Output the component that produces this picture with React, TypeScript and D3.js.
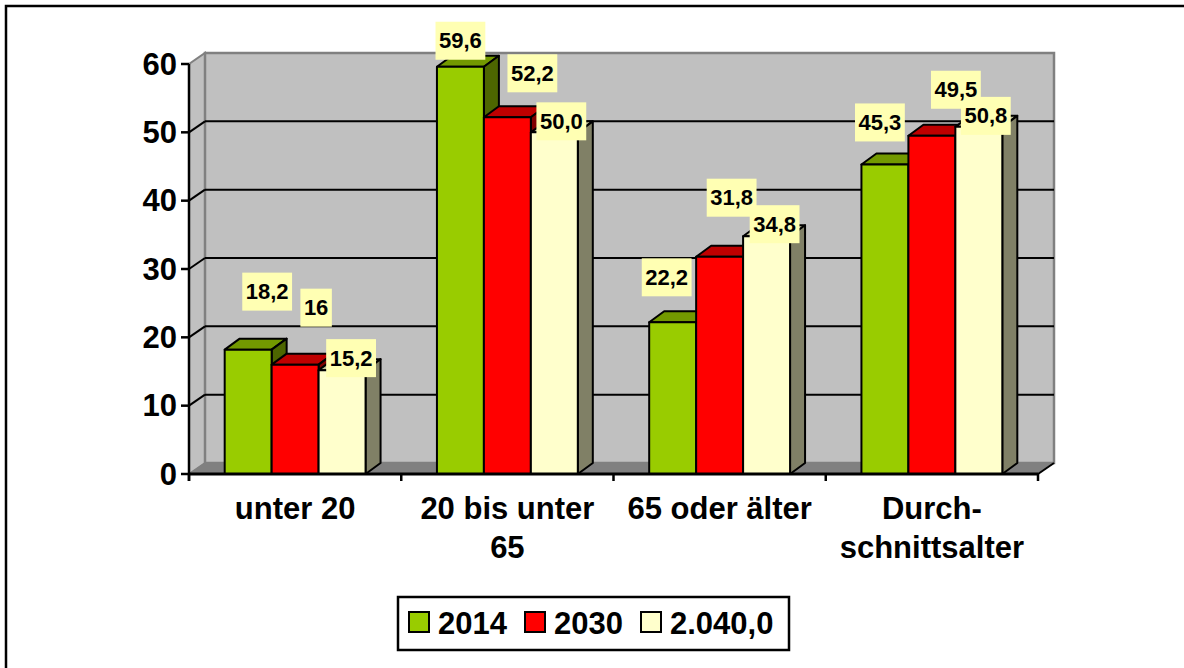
import React from 'react';
import * as d3 from 'd3';

// chart data
const categories = ['unter 20', '20 bis unter 65', '65 oder älter', 'Durchschnittsalter'];
const categoryLines = [['unter 20'], ['20 bis unter', '65'], ['65 oder älter'], ['Durch-', 'schnittsalter']];
const series = ['2014', '2030', '2.040,0'];
const values2014 = [18.2, 59.6, 22.2, 45.3];
const values2030 = [16, 52.2, 31.8, 49.5];
const values2040 = [15.2, 50.0, 34.8, 50.8];
const yTicks = [0, 10, 20, 30, 40, 50, 60];

const seriesValues = [values2014, values2030, values2040];
const seriesFormats = ['.1f', '.1~f', '.1f'];
const seriesColors = ['#99CC00', '#FF0000', '#FFFFCC'];

// label nudges (box centre relative to the bar's front top centre)
const labelNudge = [
  [[19, -58], [0, -26], [-6, -45], [-5, -42]],
  [[21, -57], [25, -44], [12, -59], [24, -46]],
  [[9, -12], [7, -11], [8, -12], [7, -11]],
];

const W = 1184;
const H = 668;
const plot = { left: 189, right: 1038, top: 64, bottom: 474 };
const wall = { dx: 16, dy: -11 };
const bar = { dx: 15, dy: -11 };
const FONT = 'Arial, "Liberation Sans", Helvetica, sans-serif';
const BIG = 31;
const SMALL = 22;

const shade = (c: string, k: number) => {
  const rgb = d3.rgb(c);
  return d3.rgb(rgb.r * k, rgb.g * k, rgb.b * k).formatHex();
};

const fmt = (spec: string, v: number) => d3.format(spec)(v).replace('.', ',');

const textWidth = (s: string, size: number) =>
  s.split('').reduce((w, ch) => w + (ch === ',' || ch === '.' ? 0.278 : 0.556), 0) * size;

export default function App() {
  const y = d3.scaleLinear().domain([0, 60]).range([plot.bottom, plot.top]);
  const x0 = d3.scaleBand<string>().domain(categories).range([plot.left, plot.right]).padding(0);
  const x1 = d3
    .scaleBand<string>()
    .domain(series)
    .range([0, x0.bandwidth()])
    .paddingInner(0)
    .paddingOuter(0.76);

  const y0 = y(0);
  const bw = x1.bandwidth();

  const floor = [
    [plot.left, y0],
    [plot.right, y0],
    [plot.right + wall.dx, y0 + wall.dy],
    [plot.left + wall.dx, y0 + wall.dy],
  ];
  const side = [
    [plot.left, y0],
    [plot.left, y(60)],
    [plot.left + wall.dx, y(60) + wall.dy],
    [plot.left + wall.dx, y0 + wall.dy],
  ];
  const pts = (p: number[][]) => p.map((d) => d.join(',')).join(' ');

  const labels: { x: number; y: number; text: string }[] = [];

  return (
    <svg width={W} height={H} style={{ position: 'absolute', left: 0, top: 0, background: '#fff' }}>
      <rect x={6} y={6} width={W + 20} height={H + 20} fill="#fff" stroke="#000" strokeWidth={2.5} />

      {/* walls */}
      <polygon points={pts(side)} fill="#C0C0C0" stroke="#808080" strokeWidth={2} />
      <rect
        x={plot.left + wall.dx}
        y={y(60) + wall.dy}
        width={plot.right - plot.left}
        height={y0 - y(60)}
        fill="#C0C0C0"
        stroke="#808080"
        strokeWidth={2.5}
      />
      <polygon points={pts(floor)} fill="#808080" stroke="#808080" strokeWidth={1} />
      <line
        x1={plot.right}
        y1={y0}
        x2={plot.right + wall.dx}
        y2={y0 + wall.dy}
        stroke="#000"
        strokeWidth={2}
      />

      {/* gridlines */}
      {yTicks
        .filter((t) => t > 0 && t < 60)
        .map((t) => (
          <g key={t}>
            <line
              x1={plot.left}
              y1={y(t)}
              x2={plot.left + wall.dx}
              y2={y(t) + wall.dy}
              stroke="#000"
              strokeWidth={2}
            />
            <line
              x1={plot.left + wall.dx}
              y1={y(t) + wall.dy}
              x2={plot.right + wall.dx}
              y2={y(t) + wall.dy}
              stroke="#000"
              strokeWidth={2}
            />
          </g>
        ))}

      {/* bars */}
      {categories.map((cat, ci) => (
        <g key={cat}>
          {series.map((s, si) => {
            const v = seriesValues[si][ci];
            const bx = (x0(cat) ?? 0) + (x1(s) ?? 0);
            const top = y(v);
            const col = seriesColors[si];
            const topFace = [
              [bx, top],
              [bx + bar.dx, top + bar.dy],
              [bx + bw + bar.dx, top + bar.dy],
              [bx + bw, top],
            ];
            const sideFace = [
              [bx + bw, top],
              [bx + bw + bar.dx, top + bar.dy],
              [bx + bw + bar.dx, y0 + bar.dy],
              [bx + bw, y0],
            ];
            const [ndx, ndy] = labelNudge[si][ci];
            labels.push({ x: bx + bw / 2 + ndx, y: top + ndy, text: fmt(seriesFormats[si], v) });
            return (
              <g key={s} stroke="#000" strokeWidth={2} strokeLinejoin="round">
                <polygon points={pts(topFace)} fill={shade(col, 0.75)} />
                <polygon points={pts(sideFace)} fill={shade(col, 0.5)} />
                <rect x={bx} y={top} width={bw} height={y0 - top} fill={col} />
              </g>
            );
          })}
        </g>
      ))}

      {/* axes */}
      <line x1={plot.left} y1={plot.top} x2={plot.left} y2={y0 + 7} stroke="#000" strokeWidth={2.5} />
      <line x1={plot.left - 1} y1={y0} x2={plot.right} y2={y0} stroke="#000" strokeWidth={3} />
      {yTicks.map((t) => (
        <g key={t}>
          <line x1={plot.left - 8} y1={y(t)} x2={plot.left} y2={y(t)} stroke="#000" strokeWidth={2.5} />
          <text
            x={plot.left - 12}
            y={y(t)}
            textAnchor="end"
            dominantBaseline="central"
            fontFamily={FONT}
            fontWeight="bold"
            fontSize={BIG}
          >
            {t}
          </text>
        </g>
      ))}
      {[...categories.map((c) => x0(c) ?? 0), plot.right].map((tx, i) => (
        <line key={i} x1={tx} y1={y0} x2={tx} y2={y0 + 7} stroke="#000" strokeWidth={2.5} />
      ))}
      {categories.map((c, ci) => (
        <text
          key={c}
          x={(x0(c) ?? 0) + x0.bandwidth() / 2}
          y={519}
          textAnchor="middle"
          fontFamily={FONT}
          fontWeight="bold"
          fontSize={BIG}
        >
          {categoryLines[ci].map((ln, li) => (
            <tspan key={li} x={(x0(c) ?? 0) + x0.bandwidth() / 2} dy={li === 0 ? 0 : 39}>
              {ln}
            </tspan>
          ))}
        </text>
      ))}

      {/* data labels: boxes first, then texts on top */}
      {labels.map((l, i) => {
        const w = textWidth(l.text, SMALL) + 7;
        return <rect key={i} x={l.x - w / 2} y={l.y - 19} width={w} height={38} fill="#FFFFB3" />;
      })}
      {labels.map((l, i) => (
        <text
          key={i}
          x={l.x}
          y={l.y}
          textAnchor="middle"
          dominantBaseline="central"
          fontFamily={FONT}
          fontWeight="bold"
          fontSize={SMALL}
        >
          {l.text}
        </text>
      ))}

      {/* legend */}
      <rect x={398} y={597} width={391} height={53} fill="#fff" stroke="#000" strokeWidth={2.5} />
      {series.map((s, si) => {
        const lx = [409, 525, 641][si];
        return (
          <g key={s}>
            <rect x={lx} y={612} width={20} height={20} fill={seriesColors[si]} stroke="#000" strokeWidth={2} />
            <text x={lx + 29} y={634} fontFamily={FONT} fontWeight="bold" fontSize={BIG}>
              {s}
            </text>
          </g>
        );
      })}
    </svg>
  );
}
